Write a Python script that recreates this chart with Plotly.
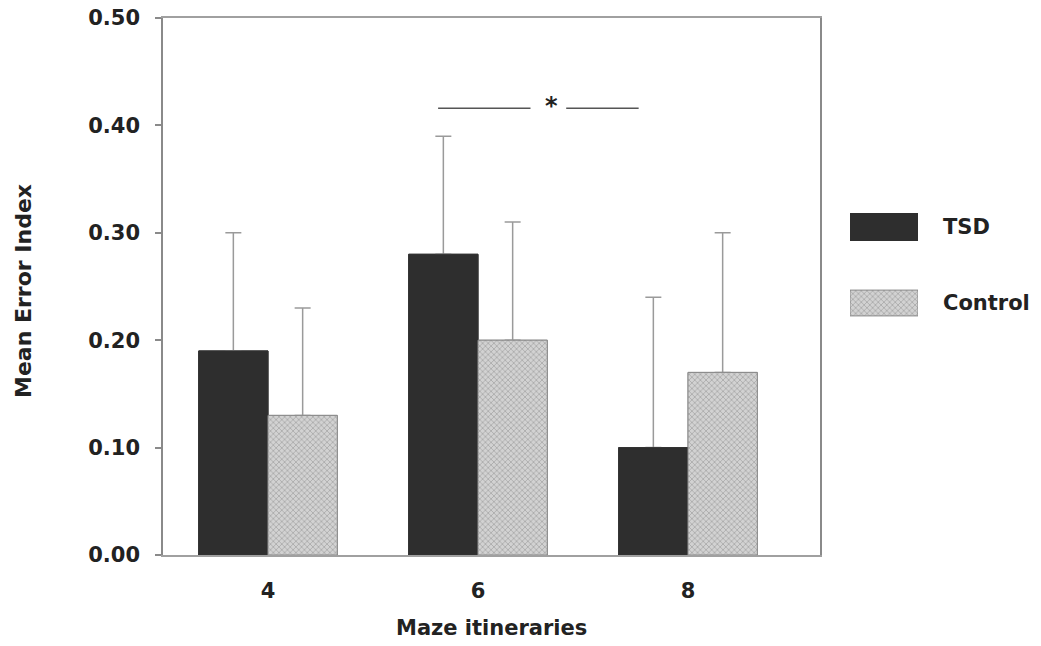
import plotly.graph_objects as go

# Maze itineraries (x categories) and mean error index per group
itineraries = [4, 6, 8]
tsd_mean = [0.19, 0.28, 0.10]
tsd_sd = [0.11, 0.11, 0.14]
control_mean = [0.13, 0.20, 0.17]
control_sd = [0.10, 0.11, 0.13]
series_names = ["TSD", "Control"]
y_ticks = [0.0, 0.1, 0.2, 0.3, 0.4, 0.5]

# significance bracket between groups at itinerary 6
sig_level = 0.416
sig_left = [5.62, 6.50]
sig_right = [6.84, 7.53]
sig_star_x = 6.70

FONT = "DejaVu Sans"
TXT = "#222222"
TSD_COLOR = "#2e2e2e"
CTRL_BG = "#d2d2d2"
CTRL_PATTERN = dict(shape="x", fgcolor="#7a7a7a", bgcolor=CTRL_BG, size=4, solidity=0.35)
ERR = dict(color="#9a9a9a", thickness=1.5, width=8)

W, H = 1041, 646
ML, MR, MT, MB = 163, 20, 18, 91
plot_w = W - ML - MR
plot_h = H - MT - MB
main_right = 657 / plot_w


def px_x(px):
    return (px - ML) / plot_w


def px_y(py):
    return (H - MB - py) / plot_h


def upper_only(sd):
    return dict(type="data", symmetric=False, array=sd,
                arrayminus=[0] * len(sd), **ERR)


fig = go.Figure()

# error bars (upper only) come with the first pair of bars ...
fig.add_trace(go.Bar(
    x=itineraries, y=tsd_mean, name=series_names[0], offsetgroup="tsd",
    marker=dict(color=TSD_COLOR, line=dict(color="#333333", width=1)),
    error_y=upper_only(tsd_sd), showlegend=False,
))
fig.add_trace(go.Bar(
    x=itineraries, y=control_mean, name=series_names[1], offsetgroup="ctrl",
    marker=dict(color=CTRL_BG, pattern=CTRL_PATTERN,
                line=dict(color="#8a8a8a", width=1)),
    error_y=upper_only(control_sd), showlegend=False,
))
# ... and the same bars are painted again on top so the lower caps stay hidden
fig.add_trace(go.Bar(
    x=itineraries, y=tsd_mean, name=series_names[0], offsetgroup="tsd",
    marker=dict(color=TSD_COLOR, line=dict(color="#333333", width=1)),
    showlegend=False, hoverinfo="skip",
))
fig.add_trace(go.Bar(
    x=itineraries, y=control_mean, name=series_names[1], offsetgroup="ctrl",
    marker=dict(color=CTRL_BG, pattern=CTRL_PATTERN,
                line=dict(color="#8a8a8a", width=1)),
    showlegend=False, hoverinfo="skip",
))

# legend swatches drawn as bars on a small hidden axis pair
fig.add_trace(go.Bar(
    x=[1], y=[1], orientation="h", width=0.37, xaxis="x2", yaxis="y2",
    marker=dict(color=TSD_COLOR, line=dict(width=0)),
    showlegend=False, hoverinfo="skip",
))
fig.add_trace(go.Bar(
    x=[1], y=[0], orientation="h", width=0.34, xaxis="x2", yaxis="y2",
    marker=dict(color=CTRL_BG, pattern=CTRL_PATTERN,
                line=dict(color="#8a8a8a", width=1)),
    showlegend=False, hoverinfo="skip",
))

shapes = [
    dict(type="line", xref="x", yref="y", x0=sig_left[0], x1=sig_left[1],
         y0=sig_level, y1=sig_level, line=dict(color="#555555", width=1.5)),
    dict(type="line", xref="x", yref="y", x0=sig_right[0], x1=sig_right[1],
         y0=sig_level, y1=sig_level, line=dict(color="#555555", width=1.5)),
]

annotations = [
    dict(x=sig_star_x, y=sig_level, xref="x", yref="y", text="<b>*</b>",
         showarrow=False, yanchor="middle", yshift=2,
         font=dict(family=FONT, size=24, color=TXT)),
    dict(x=px_x(23), y=px_y(291), xref="paper", yref="paper",
         text="<b>Mean Error Index</b>", textangle=-90, showarrow=False,
         xanchor="center", yanchor="middle",
         font=dict(family=FONT, size=22, color=TXT)),
    dict(x=px_x(491), y=px_y(628), xref="paper", yref="paper",
         text="<b>Maze itineraries</b>", showarrow=False,
         xanchor="center", yanchor="middle",
         font=dict(family=FONT, size=21, color=TXT)),
]
for name, yv in zip(series_names, [1, 0]):
    annotations.append(dict(
        x=px_x(941), y=yv, xref="paper", yref="y2", text=f"<b>{name}</b>",
        showarrow=False, xanchor="left", yanchor="middle",
        font=dict(family=FONT, size=21, color=TXT)))

fig.update_layout(
    width=W, height=H,
    margin=dict(l=ML, r=MR, t=MT, b=MB, autoexpand=False),
    paper_bgcolor="white", plot_bgcolor="white",
    barmode="group", bargap=0.34, bargroupgap=0,
    showlegend=False,
    shapes=shapes, annotations=annotations,
    xaxis=dict(
        domain=[0, main_right], range=[3, 3 + 657 / 105], automargin=False,
        tickvals=itineraries, ticktext=[f"<b>{v}</b>" for v in itineraries],
        ticks="outside", ticklen=16, tickcolor="rgba(0,0,0,0)",
        tickfont=dict(family=FONT, size=21, color=TXT),
        showgrid=False, zeroline=False,
        showline=True, linecolor="#a0a0a0", linewidth=1.5, mirror=True,
    ),
    yaxis=dict(
        range=[0, 0.5], tickvals=y_ticks, automargin=False,
        ticktext=[f"<b>{v:.2f}</b>" for v in y_ticks],
        ticks="outside", ticklen=6, tickcolor="#8a8a8a", tickwidth=1.5,
        ticklabelstandoff=11,
        tickfont=dict(family=FONT, size=21, color=TXT),
        showgrid=False, zeroline=False,
        showline=True, linecolor="#8a8a8a", linewidth=1.5, mirror=True,
    ),
    xaxis2=dict(domain=[px_x(850), px_x(918)], range=[0, 1], anchor="y2",
                visible=False, fixedrange=True, automargin=False),
    yaxis2=dict(domain=[px_y(341), px_y(189)], range=[-0.5, 1.5], anchor="x2",
                visible=False, fixedrange=True, automargin=False),
)

fig.write_html("out.html")
